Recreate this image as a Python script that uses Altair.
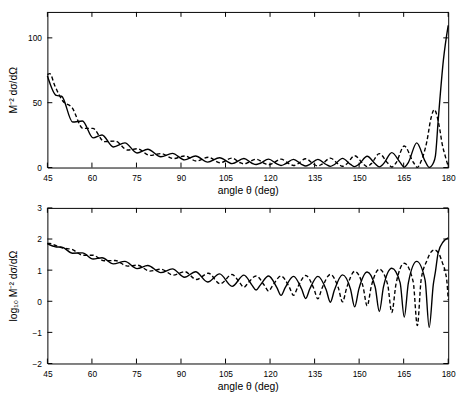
import altair as alt
import pandas as pd

# ---- data (log10 values; top panel shows 10**value) ----
solid_angle = [45.0, 48.0, 49.8, 53.5, 56.8, 60.4, 63.4, 67.2, 71.1, 75.2, 78.8, 83.2,
               87.1, 91.2, 94.9, 99.0, 103.0, 107.2, 111.2, 113.9, 115.3, 116.7, 119.5,
               122.3, 123.7, 125.1, 127.9, 130.6, 132.0, 133.4, 136.1, 138.9, 140.3,
               141.7, 144.4, 147.1, 148.5, 149.9, 152.7, 155.4, 156.8, 158.2, 161.0,
               163.8, 165.2, 166.6, 169.4, 172.2, 173.6, 175.0, 175.7, 176.6, 178.4, 180.0]
solid_log = [1.85, 1.745, 1.74, 1.545, 1.555, 1.36, 1.40, 1.20, 1.28, 1.05, 1.15, 0.92,
             1.04, 0.77, 0.95, 0.62, 0.88, 0.48, 0.84, 0.52, 0.36, 0.52, 0.81,
             0.44, 0.19, 0.44, 0.80, 0.40, 0.09, 0.40, 0.80, 0.37, -0.03,
             0.37, 0.85, 0.39, -0.18, 0.39, 0.94, 0.46, -0.33, 0.46, 1.06,
             0.60, -0.51, 0.60, 1.28, 0.69, -0.84, 0.55, 0.95, 1.55, 1.92, 2.04]

dash_angle = [45.0, 45.8, 47.5, 50.2, 53.3, 57.0, 60.3, 64.2, 67.8, 72.0, 75.3, 79.5,
              83.3, 87.4, 91.3, 95.2, 99.2, 103.2, 107.2, 109.8, 111.2, 112.6, 115.3,
              118.1, 119.5, 120.9, 123.7, 126.5, 127.9, 129.3, 132.0, 134.7, 136.1,
              137.5, 140.3, 143.0, 144.4, 145.8, 148.5, 151.3, 152.7, 154.1, 156.8,
              159.6, 161.0, 162.4, 165.2, 168.2, 169.6, 170.9, 172.8, 174.2, 175.3,
              177.0, 178.0, 179.0, 179.6, 180.0]
dash_log = [1.855, 1.86, 1.80, 1.71, 1.665, 1.48, 1.48, 1.30, 1.31, 1.13, 1.16, 0.97,
            1.03, 0.84, 0.95, 0.70, 0.90, 0.56, 0.86, 0.59, 0.45, 0.59, 0.81,
            0.51, 0.33, 0.51, 0.81, 0.45, 0.19, 0.45, 0.83, 0.42, 0.08,
            0.42, 0.86, 0.43, -0.02, 0.43, 0.96, 0.48, -0.15, 0.48, 1.03,
            0.54, -0.36, 0.54, 1.22, 0.63, -0.78, 0.70, 1.30, 1.58, 1.65,
            1.50, 1.25, 0.95, 0.60, 0.05]

x_tick_values = [45, 60, 75, 90, 105, 120, 135, 150, 165, 180]
top_tick_values = [0, 50, 100]
bottom_tick_values = [-2, -1, 0, 1, 2, 3]

x_title = "angle θ (deg)"
top_title = "M⁻² dσ/dΩ"
bottom_title = "log₁₀ M⁻² dσ/dΩ"

W, H = 407, 158
FONT = "Liberation Sans"

curves = pd.concat([
    pd.DataFrame({"angle": solid_angle, "logv": solid_log, "curve": "solid"}),
    pd.DataFrame({"angle": dash_angle, "logv": dash_log, "curve": "dashed"}),
], ignore_index=True)

xscale = alt.Scale(domain=[45, 180], nice=False, zero=False)


def text_axis(values, **kw):
    return alt.Axis(values=values, tickSize=0, grid=False, domain=False,
                    labelFont=FONT, titleFont=FONT, labelFontSize=8.5, titleFontSize=10.5,
                    labelColor="black", titleColor="black", titleFontWeight="normal",
                    labelFlush=False, labelOverlap=False, **kw)


def panel(expr, ydomain, yticks, ytitle):
    yscale = alt.Scale(domain=ydomain, nice=False, zero=False)
    xenc = alt.X("angle:Q", scale=xscale, title=x_title,
                 axis=text_axis(x_tick_values, labelPadding=6, titlePadding=4))
    yenc = alt.Y("val:Q", scale=yscale, title=ytitle,
                 axis=text_axis(yticks, labelPadding=6, titleX=-34, titleY=H / 2,
                                titleBaseline="middle"))
    base = alt.Chart(curves).transform_calculate(val=expr)
    solid = base.transform_filter(alt.datum.curve == "solid").mark_line(
        interpolate="monotone", color="black", strokeWidth=1.4).encode(x=xenc, y=yenc)
    dashed = base.transform_filter(alt.datum.curve == "dashed").mark_line(
        interpolate="monotone", color="black", strokeWidth=1.4,
        strokeDash=[4, 2.5]).encode(x=xenc, y=yenc)

    xt = pd.DataFrame({"angle": x_tick_values})
    yt = pd.DataFrame({"val": yticks})
    t_bottom = alt.Chart(xt).mark_rule(color="black").encode(
        x=xenc, y=alt.value(H), y2=alt.value(H - 5))
    t_top = alt.Chart(xt).mark_rule(color="black").encode(
        x=xenc, y=alt.value(0), y2=alt.value(5))
    t_left = alt.Chart(yt).mark_rule(color="black").encode(
        y=yenc, x=alt.value(0), x2=alt.value(5))
    t_right = alt.Chart(yt).mark_rule(color="black").encode(
        y=yenc, x=alt.value(W), x2=alt.value(W - 5))
    return alt.layer(solid, dashed, t_bottom, t_top, t_left, t_right).properties(
        width=W, height=H)


top = panel("pow(10, datum.logv)", [0, 120], top_tick_values, top_title)
bottom = panel("datum.logv", [-2, 3], bottom_tick_values, bottom_title)

chart = alt.vconcat(top, bottom, spacing=6).properties(
    padding={"left": 0, "top": 0, "right": 5, "bottom": 0}
).configure_view(stroke="black", strokeWidth=1)

chart.save("out.html", embed_options={"renderer": "svg", "actions": False})
